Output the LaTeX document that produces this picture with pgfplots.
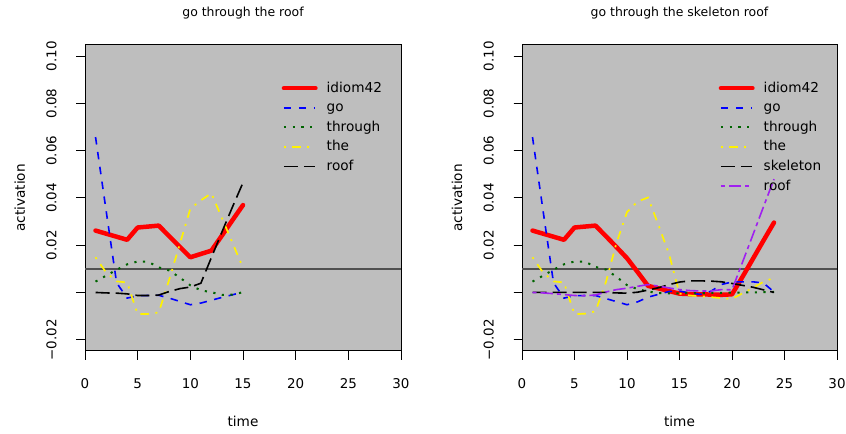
\documentclass[border=0pt]{standalone}
\usepackage{fontspec}
\setmainfont{DejaVu Sans}
\usepackage{pgfplots}
\usepackage{pgfplotstable}
\usetikzlibrary{calc}
\pgfplotsset{compat=1.18}

\definecolor{bggray}{RGB}{190,190,190}
\definecolor{hlgray}{RGB}{80,80,80}
\definecolor{rpurple}{RGB}{160,32,240}
\definecolor{rdarkgreen}{RGB}{0,100,0}

\pgfplotstableread{
t idiom go through the roof
1 0.0262 0.0658 0.0046 0.0149 0.0000
2 0.0249 0.0348 0.0071 0.0085 -0.0002
3 0.0236 0.0041 0.0096 0.0047 -0.0003
4 0.0223 -0.0024 0.0119 0.0042 -0.0006
5 0.0275 -0.0014 0.0131 -0.0092 -0.0013
6 0.0279 -0.0013 0.0130 -0.0091 -0.0013
7 0.0283 -0.0012 0.0106 -0.0085 -0.0011
8 0.0238 -0.0024 0.0093 0.0055 0.0004
9 0.0193 -0.0038 0.0063 0.0205 0.0016
10 0.0149 -0.0052 0.0030 0.0355 0.0023
11 0.0163 -0.0045 0.0009 0.0390 0.0039
12 0.0177 -0.0033 0.0001 0.0420 0.0148
13 0.0241 -0.0021 -0.0010 0.0315 0.0256
14 0.0306 -0.0010 -0.0009 0.0210 0.0362
15 0.0370 0.0002 0.0001 0.0105 0.0465
}\lefttab

\pgfplotstableread{
t idiom go through the skeleton roof
1 0.0262 0.0658 0.0046 0.0149 0.0000 0.0000
2 0.0249 0.0348 0.0071 0.0085 0.0000 -0.0002
3 0.0236 0.0041 0.0096 0.0047 0.0000 -0.0005
4 0.0223 -0.0024 0.0119 0.0042 0.0000 -0.0009
5 0.0275 -0.0014 0.0131 -0.0092 0.0000 -0.0013
6 0.0279 -0.0013 0.0130 -0.0090 0.0000 -0.0014
7 0.0283 -0.0013 0.0108 -0.0080 0.0000 -0.0011
8 0.0238 -0.0026 0.0097 0.0045 0.0000 0.0002
9 0.0192 -0.0039 0.0066 0.0210 -0.0002 0.0012
10 0.0145 -0.0052 0.0031 0.0340 -0.0003 0.0018
11 0.0087 -0.0040 0.0014 0.0385 0.0001 0.0026
12 0.0028 -0.0020 0.0004 0.0402 0.0010 0.0033
13 0.0017 -0.0008 -0.0003 0.0285 0.0020 0.0027
14 0.0006 0.0004 -0.0004 0.0163 0.0033 0.0019
15 -0.0005 0.0006 -0.0004 -0.0005 0.0044 0.0012
16 -0.0007 -0.0003 -0.0003 -0.0013 0.0049 0.0008
17 -0.0008 -0.0008 -0.0003 -0.0016 0.0049 0.0006
18 -0.0009 0.0005 -0.0002 -0.0020 0.0048 0.0006
19 -0.0010 0.0034 -0.0002 -0.0024 0.0045 0.0012
20 -0.0008 0.0044 -0.0001 -0.0027 0.0038 0.0011
21 0.0066 0.0045 0.0000 -0.0004 0.0030 0.0128
22 0.0143 0.0045 0.0000 0.0020 0.0022 0.0245
23 0.0220 0.0040 0.0001 0.0045 0.0011 0.0363
24 0.0296 0.0002 0.0002 0.0062 0.0000 0.0480
}\righttab

\pgfplotsset{
  idS/.style={red, line width=4.5bp, line join=round, line cap=round},
  goS/.style={blue, line width=1.6bp, dash pattern=on 7.5bp off 7.5bp},
  thS/.style={rdarkgreen, line width=2bp, dash pattern=on 2.2bp off 6.5bp},
  theS/.style={yellow, line width=1.7bp, dash pattern=on 2bp off 6.5bp on 8.5bp off 6.5bp},
  ldS/.style={black, line width=1.6bp, dash pattern=on 14bp off 6bp},
  tdS/.style={rpurple, line width=1.6bp, dash pattern=on 4bp off 4bp on 12.5bp off 4bp},
  rpanel/.style={
    scale only axis, width=316bp, height=306bp,
    clip=false,
    xmin=0, xmax=30, ymin=-0.0248, ymax=0.1048,
    axis background/.style={fill=bggray},
    axis line style={line width=1bp, black},
    xtick pos=bottom, ytick pos=left,
    tick align=outside, major tick length=8.5bp,
    tick style={black, line width=1bp},
    xtick={0,5,10,15,20,25,30},
    xticklabels={0,5,10,15,20,25,30},
    ytick={-0.02,0,0.02,0.04,0.06,0.08,0.1},
    yticklabels={−0.02,,0.02,0.04,0.06,0.08,0.10},
    tick label style={font=\fontsize{13.5}{16}\selectfont},
    xticklabel style={anchor=base, yshift=-29bp},
    yticklabel style={xshift=-20bp, rotate=90, anchor=base},
    title style={font=\fontsize{12.5}{15}\selectfont, at={(axis description cs:0.5,1)}, anchor=base, yshift=23bp},
    every axis x label/.style={at={(axis description cs:0.5,0)}, anchor=base, yshift=-75bp, font=\fontsize{13.7}{16}\selectfont},
    every axis y label/.style={at={(axis description cs:0,0.5)}, xshift=-60bp, rotate=90, anchor=base, font=\fontsize{13.7}{16}\selectfont},
    xlabel={time}, ylabel={activation},
    legend image code/.code={\draw[##1] (0bp,0bp) -- (31.5bp,0bp);},
    legend cell align=left,
    legend style={at={(axis description cs:0,1)}, anchor=north west, xshift=196.5bp, yshift=-35.5bp,
      draw=none, fill=none, inner sep=0pt, row sep=4.6bp, column sep=9bp,
      font=\fontsize{13.7}{16}\selectfont,
      nodes={inner sep=0pt, text height=11.5bp, text depth=3.5bp}},
  }
}

\begin{document}
\begin{tikzpicture}
\useasboundingbox (0bp,0bp) rectangle (846bp,434bp);
\begin{axis}[rpanel, name=L, at={(85bp,83bp)}, anchor=south west, title={go through the roof}]
  \addplot[hlgray, line width=1.5bp, forget plot] coordinates {(0,0.01) (30,0.01)};
  \addplot[idS] table[x=t, y=idiom] {\lefttab};
  \addlegendentry{idiom42}
  \addplot[goS] table[x=t, y=go] {\lefttab};
  \addlegendentry{go}
  \addplot[thS] table[x=t, y=through] {\lefttab};
  \addlegendentry{through}
  \addplot[theS] table[x=t, y=the] {\lefttab};
  \addlegendentry{the}
  \addplot[ldS] table[x=t, y=roof] {\lefttab};
  \addlegendentry{roof}
\end{axis}
\begin{axis}[rpanel, name=R, at={(522bp,83bp)}, anchor=south west, width=315bp, title={go through the skeleton roof}]
  \addplot[hlgray, line width=1.5bp, forget plot] coordinates {(0,0.01) (30,0.01)};
  \addplot[idS] table[x=t, y=idiom] {\righttab};
  \addlegendentry{idiom42}
  \addplot[goS] table[x=t, y=go] {\righttab};
  \addlegendentry{go}
  \addplot[thS] table[x=t, y=through] {\righttab};
  \addlegendentry{through}
  \addplot[theS] table[x=t, y=the] {\righttab};
  \addlegendentry{the}
  \addplot[ldS] table[x=t, y=skeleton] {\righttab};
  \addlegendentry{skeleton}
  \addplot[tdS] table[x=t, y=roof] {\righttab};
  \addlegendentry{roof}
\end{axis}
\foreach \f in {0,0.1666667,0.3333333,0.5,0.6666667,0.8333333,1} {
  \node[inner sep=0pt, outer sep=0pt, anchor=north] at ($(L.south west)!\f!(L.south east)$) {\rule{1bp}{8.5bp}};
  \node[inner sep=0pt, outer sep=0pt, anchor=north] at ($(R.south west)!\f!(R.south east)$) {\rule{1bp}{8.5bp}};
}
\foreach \f in {0.03704,0.19136,0.34568,0.5,0.65432,0.80864,0.96296} {
  \node[inner sep=0pt, outer sep=0pt, anchor=east] at ($(L.south west)!\f!(L.north west)$) {\rule[-0.5bp]{8.5bp}{1bp}};
  \node[inner sep=0pt, outer sep=0pt, anchor=east] at ($(R.south west)!\f!(R.north west)$) {\rule[-0.5bp]{8.5bp}{1bp}};
}
\end{tikzpicture}
\end{document}
